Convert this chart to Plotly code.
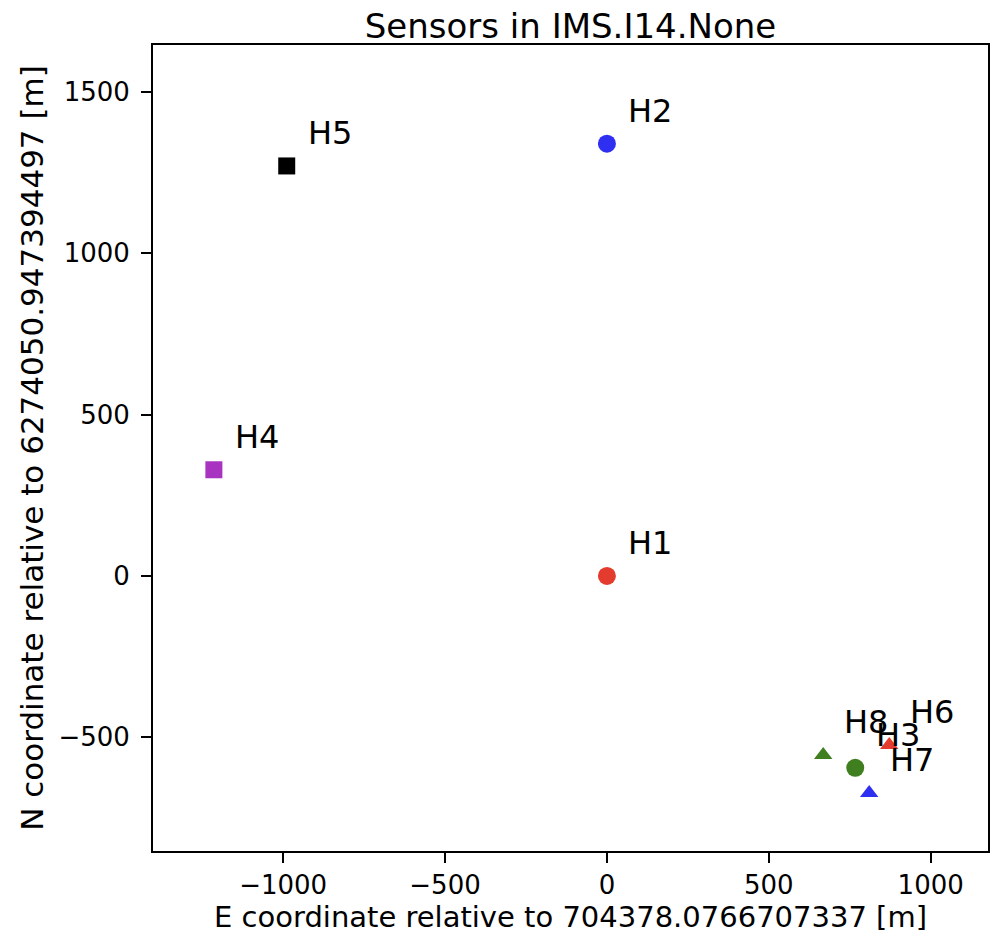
import plotly.graph_objects as go

names = ["H1", "H2", "H3", "H4", "H5", "H6", "H7", "H8"]
east = [0, 0, 767, -1214, -989, 872, 810, 668]
north = [0, 1340, -595, 329, 1271, -524, -673, -555]
symbols = ["circle", "circle", "circle", "square", "square", "triangle-up", "triangle-up", "triangle-up"]
colors = ["#e33b2e", "#2f2ff2", "#3f7f1f", "#a833c0", "#000000", "#e33b2e", "#2f2ff2", "#3f7f1f"]
sizes = [18, 18, 18, 17, 17, 16, 16, 16]

fig = go.Figure()
for n, x, y, s, c, sz in zip(names, east, north, symbols, colors, sizes):
    fig.add_trace(go.Scatter(x=[x], y=[y], mode="markers", name=n,
                             marker=dict(symbol=s, color=c, size=sz, line=dict(width=0)),
                             showlegend=False))
    fig.add_annotation(x=x, y=y, text=n, showarrow=False, xanchor="left", yanchor="middle",
                       xshift=19, yshift=33, font=dict(family="DejaVu Sans", size=32, color="black"))

axis_common = dict(showline=True, linecolor="black", linewidth=1.8, mirror=True,
                   ticks="outside", ticklen=10, tickwidth=1.5, tickcolor="black",
                   showgrid=False, zeroline=False,
                   tickfont=dict(family="DejaVu Sans", size=26, color="black"))

fig.update_layout(
    width=992, height=947,
    paper_bgcolor="white", plot_bgcolor="white",
    margin=dict(l=153, r=2, t=45, b=96),
    title=dict(text="Sensors in IMS.I14.None", x=0.5, xref="paper", xanchor="center",
               y=1, yref="paper", yanchor="bottom", pad=dict(b=7),
               font=dict(family="DejaVu Sans", size=34, color="black")),
    xaxis=dict(range=[-1402, 1177], tickvals=[-1000, -500, 0, 500, 1000],
               ticktext=["\u22121000", "\u2212500", "0", "500", "1000"],
               title=dict(text="E coordinate relative to 704378.0766707337 [m]", standoff=7,
                          font=dict(family="DejaVu Sans", size=29, color="black")),
               **axis_common),
    yaxis=dict(range=[-853, 1646], tickvals=[-500, 0, 500, 1000, 1500],
               ticktext=["\u2212500", "0", "500", "1000", "1500"],
               ticklabelstandoff=6,
               title=dict(text="N coordinate relative to 6274050.947394497 [m]", standoff=6,
                          font=dict(family="DejaVu Sans", size=31, color="black")),
               **axis_common),
)

fig.write_html("out.html")
